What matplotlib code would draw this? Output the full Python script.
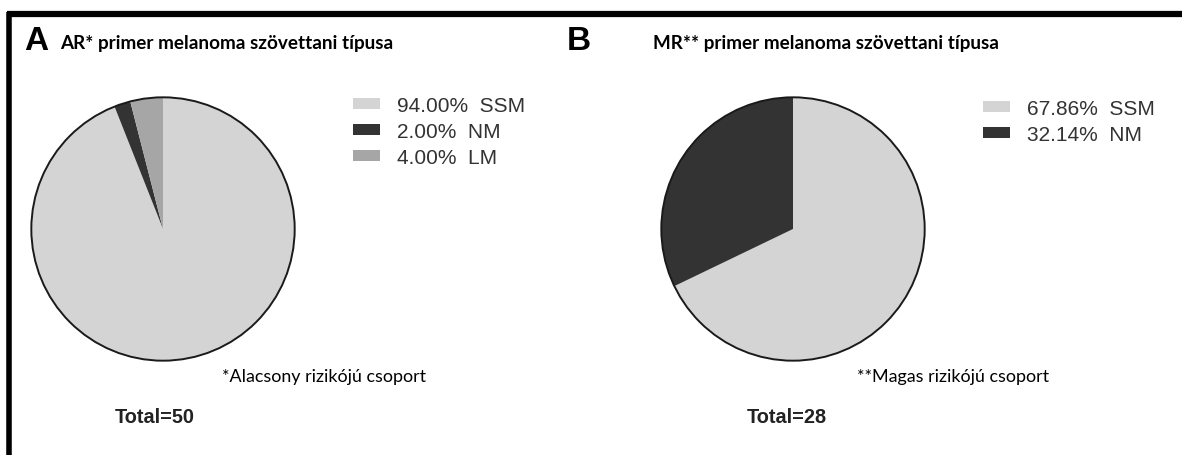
import matplotlib
matplotlib.use("Agg")
import matplotlib.pyplot as plt
from matplotlib.lines import Line2D

# Patient counts by histological type
types_a = ["SSM", "NM", "LM"]
counts_a = [47, 1, 2]
types_b = ["SSM", "NM"]
counts_b = [19, 9]

title_a = "AR* primer melanoma szövettani típusa"
title_b = "MR** primer melanoma szövettani típusa"
note_a = "*Alacsony rizikójú csoport"
note_b = "**Magas rizikójú csoport"

colors = {"SSM": "#d4d4d4", "NM": "#333333", "LM": "#a6a6a6"}

W, H = 1182, 456
fig = plt.figure(figsize=(W / 100, H / 100), dpi=100)
fig.patch.set_facecolor("white")


def fx(px):
    return px / W


def fy(py):
    return 1 - py / H


# Frame lines along top and left edge
fig.add_artist(Line2D([fx(7), fx(1182)], [fy(15), fy(15)], color="black", lw=4.5,
                      transform=fig.transFigure, solid_capstyle="butt"))
fig.add_artist(Line2D([fx(9.5), fx(9.5)], [fy(12.5), fy(456)], color="black", lw=4.0,
                      transform=fig.transFigure, solid_capstyle="butt"))

title_font = ["Lato", "DejaVu Sans"]
arial = ["Liberation Sans", "DejaVu Sans"]


def panel(cx, cy, r, types, counts, letter, lx, title, tx, note, nx, tot_x, leg_x, leg_y):
    ax = fig.add_axes([fx(cx - r), fy(cy + r), r * 2 / W, r * 2 / H])
    total = sum(counts)
    pct = [100 * c / total for c in counts]
    wedges, _ = ax.pie(counts, colors=[colors[t] for t in types], startangle=90,
                       counterclock=False, radius=1.0,
                       wedgeprops=dict(linewidth=0))
    outline = plt.Circle((0, 0), 1.0, fill=False, edgecolor="#1a1a1a", lw=1.4)
    ax.add_patch(outline)
    ax.set_xlim(-1.01, 1.01)
    ax.set_ylim(-1.01, 1.01)
    ax.set_aspect("equal")
    ax.axis("off")

    labels = [f"{p:.2f}%  {t}" for p, t in zip(pct, types)]
    fig.legend(wedges, labels, loc="upper left",
               bbox_to_anchor=(fx(leg_x), fy(leg_y)), frameon=False,
               prop=dict(family=arial, size=15), handlelength=1.3,
               handleheight=0.4, handletextpad=0.8, labelspacing=0.34,
               borderpad=0, borderaxespad=0, labelcolor="#333333")

    fig.text(fx(lx), fy(41), letter, fontsize=24, fontweight="bold",
             family=arial, va="center", ha="left")
    fig.text(fx(tx), fy(43), title, fontsize=13.6, fontweight="bold",
             family=title_font, va="center", ha="left")
    fig.text(fx(nx), fy(377), note, fontsize=12.9, family=title_font,
             va="center", ha="left")
    fig.text(fx(tot_x), fy(418), f"Total={total}", fontsize=14.3, fontweight="bold",
             family=arial, va="center", ha="left", color="#222222")


panel(163, 230, 133, types_a, counts_a, "A", 24, title_a, 60, note_a, 222, 115, 353, 97)
panel(793, 230, 133, types_b, counts_b, "B", 567, title_b, 653, note_b, 857, 747, 983, 100)

fig.savefig("out.png", dpi=100, facecolor="white")
